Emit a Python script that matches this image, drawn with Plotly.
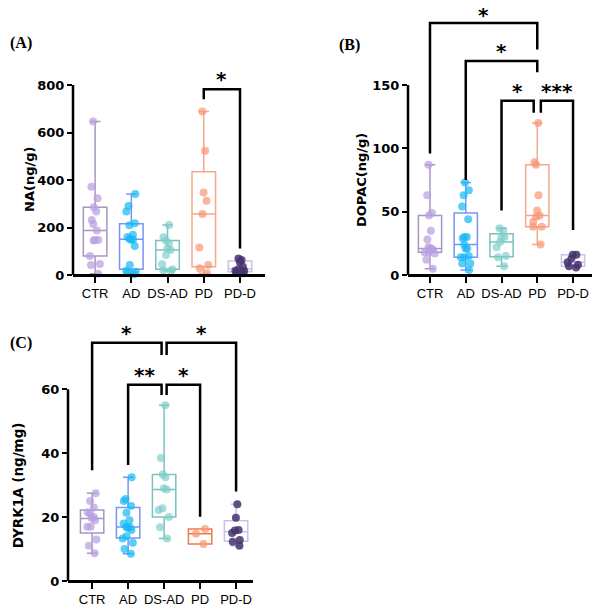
import numpy as np
import plotly.graph_objects as go

categories = ["CTR", "AD", "DS-AD", "PD", "PD-D"]

# (A) NA, ng/g
na_ctr = [646, 372, 323, 285, 267, 232, 215, 187, 147, 147, 145, 80, 46, 42, 5]
na_ad = [341, 291, 267, 218, 210, 170, 160, 152, 150, 148, 122, 42, 18, 14, 10, 3]
na_dsad = [211, 159, 145, 133, 112, 105, 84, 45, 24, 20, 17]
na_pd = [688, 523, 347, 313, 257, 116, 42, 28, 7]
na_pdd = [70, 63, 55, 35, 25, 18, 18, 10, 7]

# (B) DOPAC, ng/g
dopac_ctr = [87, 63, 49, 47, 35, 28, 22, 21, 21, 20, 18, 18, 17, 12, 5]
dopac_ad = [73, 67, 63, 54, 44, 30, 30, 29, 24, 21, 21, 15, 14, 14, 9, 9, 4]
dopac_dsad = [37, 35, 30, 30, 26, 22, 15, 14, 7]
dopac_pd = [120, 89, 87, 63, 51, 47, 46, 42, 38, 38, 24]
dopac_pdd = [16, 16, 13, 10, 8, 7, 6]

# (C) DYRK1A, ng/mg
dyrk_ctr = [27.5, 25, 23, 21.5, 21, 20, 19.6, 19, 17, 17, 13, 11, 8.7]
dyrk_ad = [32.5, 25.7, 25, 23.5, 21.4, 19, 18, 17, 16.8, 16.6, 16, 14, 13.3, 12, 10, 8.5]
dyrk_dsad = [55, 38.5, 33.3, 32.5, 29, 28.6, 22.8, 22.2, 20, 16.8, 13.3]
dyrk_pd = [16.3, 14.8, 11.6]
dyrk_pdd = [24, 19.8, 16, 15.8, 15, 12.8, 12.3, 11]

na_ticks = [0, 200, 400, 600, 800]
dopac_ticks = [0, 50, 100, 150]
dyrk_ticks = [0, 20, 40, 60]

# significance brackets:
# left, right, label, top, left foot, right foot, left nudge, right nudge, star gap (px)
na_sig = [("PD", "PD-D", "*", 782, 740, 112, 0, 0, 10)]
dopac_sig = [
    ("CTR", "PD", "*", 199, 96, 178, 0, 0, 8),
    ("AD", "PD", "*", 169, 75, 160, 0, 0, 10),
    ("DS-AD", "PD", "*", 137.5, 51, 128, 0, -0.1, 10),
    ("PD", "PD-D", "***", 137.5, 128, 35.5, 0.1, 0, 10),
]
dyrk_sig = [
    ("CTR", "DS-AD", "*", 74.6, 34.7, 70.7, 0, -0.07, 10),
    ("DS-AD", "PD-D", "*", 74.6, 70.7, 28, 0.07, 0, 10),
    ("AD", "DS-AD", "**", 61.4, 36.3, 58.2, 0, -0.07, 10),
    ("DS-AD", "PD", "*", 61.4, 58.2, 20.1, 0.07, 0, 10),
]

point_colors = ["rgb(185,160,225)", "rgb(20,185,245)", "rgb(125,205,200)",
                "rgb(248,150,115)", "rgb(70,50,110)"]
point_opacity = [0.72, 0.7, 0.68, 0.7, 0.85]
box_colors = ["#a598c0", "#7a94f7", "#79c3bd", "#f7a88b", "#c9c0ec"]
box_colors_c = ["#a598c0", "#7a94f7", "#79c3bd", "#f27a48", "#c9c0ec"]

W, H = 600, 606
OFF = 8  # page body margin: the plot div starts 8px in from the window corner
FW, FH = W - OFF, H - OFF


def px_x(px):
    return (px - OFF) / FW


def px_y(py):
    return min(1.0, max(0.0, 1 - (py - OFF) / FH))


panels = [
    dict(groups=[na_ctr, na_ad, na_dsad, na_pd, na_pdd], ticks=na_ticks, sig=na_sig,
         title="NA(ng/g)", title_x=29, title_size=13, label="(A)", label_xy=(21, 43),
         x_px=(73, 265), x_range=[-0.61, 4.69], zero_px=275, ppu=190 / 800, y_range=[-30, 880],
         colors=box_colors),
    dict(groups=[dopac_ctr, dopac_ad, dopac_dsad, dopac_pd, dopac_pdd], ticks=dopac_ticks, sig=dopac_sig,
         title="DOPAC(ng/g)", title_x=361, title_size=13, label="(B)", label_xy=(349, 45),
         x_px=(408, 597), x_range=[-0.615, 4.67], zero_px=275, ppu=190 / 150, y_range=[-6, 210],
         colors=box_colors),
    dict(groups=[dyrk_ctr, dyrk_ad, dyrk_dsad, dyrk_pd, dyrk_pdd], ticks=dyrk_ticks, sig=dyrk_sig,
         title="DYRK1A (ng/mg)", title_x=18, title_size=13.5, label="(C)", label_xy=(21, 343),
         x_px=(68, 253), x_range=[-0.67, 4.47], zero_px=581, ppu=(581 - 389.3) / 60, y_range=[-2.5, 82],
         colors=box_colors_c),
]

fig = go.Figure()
shapes = []
annotations = []
layout_axes = {}

for n, p in enumerate(panels, start=1):
    sfx = "" if n == 1 else str(n)
    xa, ya = "x" + sfx, "y" + sfx

    for i, vals in enumerate(p["groups"]):
        v = np.array(vals, dtype=float)
        q1, med, q3 = np.percentile(v, [25, 50, 75], method="weibull")
        # box + whiskers spanning min to max
        fig.add_trace(go.Box(
            x=[i], q1=[q1], median=[med], q3=[q3], lowerfence=[v.min()], upperfence=[v.max()],
            width=0.65, whiskerwidth=0.45, boxpoints=False,
            fillcolor="rgba(0,0,0,0)", line=dict(color=p["colors"][i], width=1.5),
            xaxis=xa, yaxis=ya, hoverinfo="skip",
        ))
        # individual points
        fig.add_trace(go.Box(
            x=[i] * len(vals), y=vals, width=0.65, boxpoints="all", jitter=0.55, pointpos=0,
            whiskerwidth=0, fillcolor="rgba(0,0,0,0)", line=dict(color="rgba(0,0,0,0)", width=0),
            marker=dict(color=point_colors[i], opacity=point_opacity[i], size=8, line=dict(width=0)),
            xaxis=xa, yaxis=ya, hoverinfo="skip",
        ))

    lo, hi = p["y_range"]
    bottom_px = p["zero_px"] - lo * p["ppu"]
    top_px = p["zero_px"] - hi * p["ppu"]
    layout_axes["xaxis" + sfx] = dict(
        domain=[px_x(p["x_px"][0]), px_x(p["x_px"][1])], range=p["x_range"],
        anchor="free", position=px_y(p["zero_px"]),
        showline=True, linecolor="black", linewidth=2.5,
        ticks="outside", ticklen=6, tickwidth=2, tickcolor="black",
        tickvals=list(range(len(categories))), ticktext=categories,
        tickfont=dict(family="Liberation Sans, Arial", size=13, color="black"),
        showgrid=False, zeroline=False,
    )
    layout_axes["yaxis" + sfx] = dict(
        domain=[px_y(bottom_px), px_y(top_px)], range=p["y_range"], anchor=xa,
        showline=False, ticks="outside", ticklen=5, tickwidth=2, tickcolor="black",
        tickvals=p["ticks"], tickfont=dict(family="DejaVu Sans", size=13, color="black", weight="bold"),
        showgrid=False, zeroline=False,
    )

    # y axis line from 0 up to the top tick
    shapes.append(dict(type="line", xref=xa + " domain", yref=ya, x0=0, x1=0,
                       y0=0, y1=p["ticks"][-1], line=dict(color="black", width=2.5)))

    for left, right, label, top, lf, rf, ln, rn, gap in p["sig"]:
        x0 = categories.index(left) + ln
        x1 = categories.index(right) + rn
        shapes.append(dict(type="path", xref=xa, yref=ya,
                           path=f"M {x0},{lf} L {x0},{top} L {x1},{top} L {x1},{rf}",
                           line=dict(color="black", width=2.5)))
        annotations.append(dict(x=(x0 + x1) / 2, y=top, xref=xa, yref=ya, text=label,
                                showarrow=False, xanchor="center", yanchor="middle", yshift=gap,
                                font=dict(family="DejaVu Sans", size=20, color="black", weight="bold")))

    annotations.append(dict(x=px_x(p["title_x"]), xref="paper", y=(p["ticks"][0] + p["ticks"][-1]) / 2, yref=ya,
                            text=p["title"], textangle=-90, showarrow=False,
                            xanchor="center", yanchor="middle",
                            font=dict(family="DejaVu Sans", size=p["title_size"], color="black", weight="bold")))
    annotations.append(dict(x=px_x(p["label_xy"][0]), y=px_y(p["label_xy"][1]), xref="paper", yref="paper",
                            text=p["label"], showarrow=False, xanchor="center", yanchor="middle",
                            font=dict(family="Liberation Serif, Times New Roman", size=16, color="black",
                                      weight="bold")))

fig.update_layout(
    width=FW, height=FH, margin=dict(l=0, r=0, t=0, b=0),
    paper_bgcolor="white", plot_bgcolor="white",
    showlegend=False, boxmode="overlay",
    shapes=shapes, annotations=annotations,
    **layout_axes,
)

fig.write_html("out.html")
